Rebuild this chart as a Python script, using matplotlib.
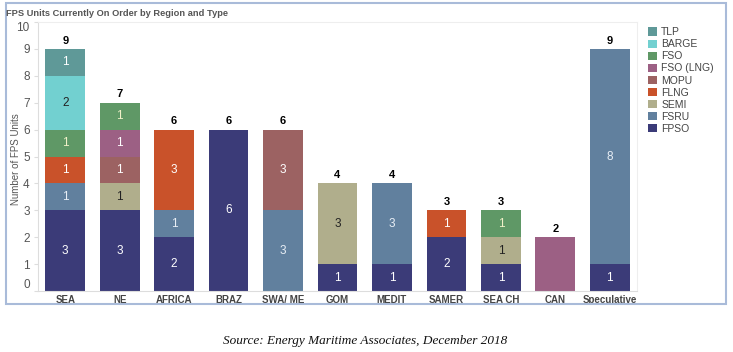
import matplotlib.pyplot as plt
from matplotlib.patches import Rectangle

regions = ["SEA", "NE", "AFRICA", "BRAZ", "SWA/ ME", "GOM", "MEDIT", "SAMER", "SEA CH", "CAN", "Speculative"]

# stacked bottom -> top
types = ["FPSO", "FSRU", "SEMI", "FLNG", "MOPU", "FSO (LNG)", "FSO", "BARGE", "TLP"]
fpso = [3, 3, 2, 6, 0, 1, 1, 2, 1, 0, 1]
fsru = [1, 0, 1, 0, 3, 0, 3, 0, 0, 0, 8]
semi = [0, 1, 0, 0, 0, 3, 0, 0, 1, 0, 0]
flng = [1, 0, 3, 0, 0, 0, 0, 1, 0, 0, 0]
mopu = [0, 1, 0, 0, 3, 0, 0, 0, 0, 0, 0]
fso_lng = [0, 1, 0, 0, 0, 0, 0, 0, 0, 2, 0]
fso = [1, 1, 0, 0, 0, 0, 0, 0, 1, 0, 0]
barge = [2, 0, 0, 0, 0, 0, 0, 0, 0, 0, 0]
tlp = [1, 0, 0, 0, 0, 0, 0, 0, 0, 0, 0]
series = [fpso, fsru, semi, flng, mopu, fso_lng, fso, barge, tlp]

colors = ["#3b3b78", "#61809e", "#b0ae8c", "#c9522a", "#9c6262",
          "#9c6084", "#5f9866", "#72d0d0", "#5f9998"]
text_colors = ["#ffffff", "#e8eef5", "#222222", "#ffffff", "#ffffff",
               "#ffffff", "#f0f0c8", "#222222", "#ffffff"]

plt.rcParams["font.family"] = ["Liberation Sans", "DejaVu Sans"]

fig = plt.figure(figsize=(7.33, 3.52), dpi=100)
ax = fig.add_axes([38 / 733, 1 - 291 / 352, 599 / 733, 269 / 352])

x = list(range(len(regions)))
bottom = [0] * len(regions)
for vals, c, tc, name in zip(series, colors, text_colors, types):
    ax.bar(x, vals, bottom=bottom, width=0.73, color=c, label=name)
    for i, v in enumerate(vals):
        if v > 0 and regions[i] != "CAN":
            ax.text(i, bottom[i] + v / 2, str(v), ha="center", va="center",
                    color=tc, fontsize=8.5)
    bottom = [b + v for b, v in zip(bottom, vals)]

for i, t in enumerate(bottom):
    ax.text(i, t + 0.12, str(t), ha="center", va="bottom", fontsize=8,
            fontweight="bold", color="black")

ax.set_xlim(-0.5, len(regions) - 0.5)
ax.set_ylim(0, 10)
ax.set_yticks(range(11))
ax.set_xticks(x)
ax.set_xticklabels(regions, fontsize=7, fontweight="bold", color="#444444")
ax.tick_params(axis="x", length=0, pad=3)
ax.tick_params(axis="y", length=3, color="#dddddd", labelsize=8.5, labelcolor="#555555", pad=3)
ylabels = ax.get_yticklabels()
ylabels[0].set_va("bottom")
ylabels[-1].set_va("top")
ax.set_ylabel("Number of FPS Units", fontsize=7, color="#555555")
ax.yaxis.set_label_coords(-17 / 599, 0.49)
for s in ["top", "right"]:
    ax.spines[s].set_color("#eeeeee")
    ax.spines[s].set_linewidth(0.8)
for s in ["left", "bottom"]:
    ax.spines[s].set_color("#dddddd")
    ax.spines[s].set_linewidth(0.8)

handles, labels = ax.get_legend_handles_labels()
fig.legend(handles[::-1], labels[::-1], loc="upper left",
           bbox_to_anchor=(643 / 733, 1 - 22 / 352), frameon=False,
           fontsize=7.5, handlelength=0.85, handleheight=0.85, handletextpad=0.4,
           labelspacing=0.2, labelcolor="#444444", borderpad=0)

fig.text(6 / 733, 1 - 14 / 352, "FPS Units Currently On Order by Region and Type",
         fontsize=6.7, fontweight="bold", color="#555555",
         va="center", ha="left")

fig.patches.append(Rectangle((6 / 733, 1 - 304 / 352), 720 / 733, 301 / 352,
                             transform=fig.transFigure, fill=False,
                             edgecolor="#a9bbd9", linewidth=1.5))

fig.text(365 / 733, 1 - 341 / 352, "Source: Energy Maritime Associates, December 2018",
         fontsize=9.5, style="italic", family="Liberation Serif", color="#111111",
         ha="center", va="center")

fig.savefig("out.png", dpi=100)
